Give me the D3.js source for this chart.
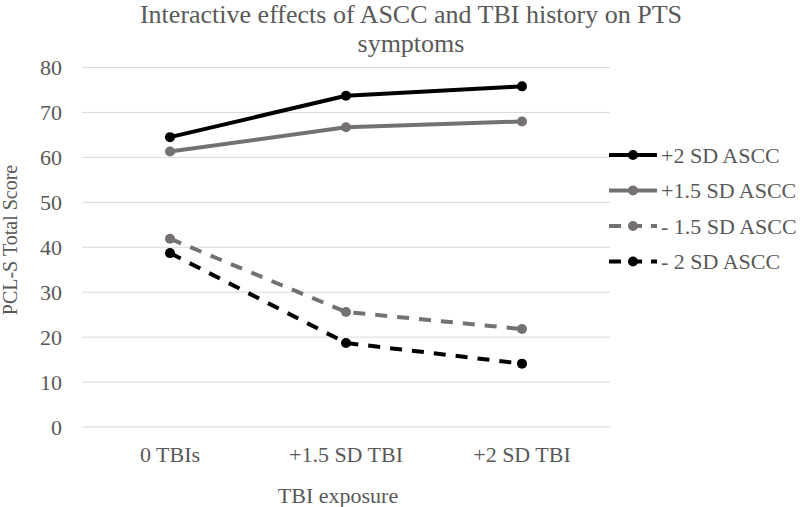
<!DOCTYPE html>
<html><head><meta charset="utf-8">
<script src="https://cdn.jsdelivr.net/npm/d3@7"></script>
<style>body{margin:0;background:#fff}svg{display:block}</style>
</head><body>
<svg id="c" width="800" height="507"></svg>
<script>
const categories = ["0 TBIs", "+1.5 SD TBI", "+2 SD TBI"];
const seriesNames = ["+2 SD ASCC", "+1.5 SD ASCC", "- 1.5 SD ASCC", "- 2 SD ASCC"];
const plus2 = [64.5, 73.7, 75.8];
const plus15 = [61.3, 66.7, 68.0];
const minus15 = [41.9, 25.6, 21.8];
const minus2 = [38.7, 18.7, 14.1];
const yTicks = [0, 10, 20, 30, 40, 50, 60, 70, 80];

const series = [
  {name: seriesNames[0], values: plus2, color: "#000000", dash: null},
  {name: seriesNames[1], values: plus15, color: "#767171", dash: null},
  {name: seriesNames[2], values: minus15, color: "#767171", dash: "12,10"},
  {name: seriesNames[3], values: minus2, color: "#000000", dash: "12,10"}
];

const svg = d3.select("#c");
const mLeft = 82, mRight = 610, mTop = 67.5, mBottom = 427;
const x = d3.scaleBand().domain(categories).range([mLeft, mRight]);
const y = d3.scaleLinear().domain([0, 80]).range([mBottom, mTop]);
const font = "'Liberation Serif','Times New Roman',serif";
const textColor = "#595959";

// gridlines
svg.append("g").selectAll("line").data(yTicks).join("line")
  .attr("x1", mLeft).attr("x2", mRight)
  .attr("y1", d => y(d)).attr("y2", d => y(d))
  .attr("stroke", "#d9d9d9").attr("stroke-width", 1);

// y axis labels
const yAxis = svg.append("g").attr("transform", `translate(${mLeft},0)`)
  .call(d3.axisLeft(y).tickValues(yTicks).tickSize(0).tickPadding(20));
yAxis.select(".domain").remove();
yAxis.selectAll("text").attr("font-family", font).attr("font-size", 22).attr("fill", textColor);

// x axis labels
const xAxis = svg.append("g").attr("transform", `translate(0,${mBottom})`)
  .call(d3.axisBottom(x).tickSize(0).tickPadding(19));
xAxis.select(".domain").remove();
xAxis.selectAll("text").attr("font-family", font).attr("font-size", 22).attr("fill", textColor);

// lines
const line = d3.line().x((d, i) => x(categories[i]) + x.bandwidth() / 2).y(d => y(d));
series.forEach(s => {
  svg.append("path").datum(s.values)
    .attr("d", line).attr("fill", "none")
    .attr("stroke", s.color).attr("stroke-width", 4)
    .attr("stroke-dasharray", s.dash).attr("stroke-linecap", s.dash ? "butt" : "round")
    .attr("stroke-linejoin", "round");
  svg.append("g").selectAll("circle").data(s.values).join("circle")
    .attr("cx", (d, i) => x(categories[i]) + x.bandwidth() / 2)
    .attr("cy", d => y(d)).attr("r", 5).attr("fill", s.color);
});

// title
const title = svg.append("text").attr("text-anchor", "middle")
  .attr("font-family", font).attr("font-size", 26).attr("fill", textColor);
title.append("tspan").attr("x", 411).attr("y", 23).text("Interactive effects of ASCC and TBI history on PTS");
title.append("tspan").attr("x", 411).attr("y", 52).text("symptoms");

// axis titles
svg.append("text").attr("transform", "translate(10,240) rotate(-90)")
  .attr("text-anchor", "middle").attr("dy", "0.35em").attr("font-family", font).attr("font-size", 20)
  .attr("fill", textColor).text("PCL-S Total Score");
svg.append("text").attr("x", 338).attr("y", 503)
  .attr("text-anchor", "middle").attr("font-family", font).attr("font-size", 22)
  .attr("fill", textColor).text("TBI exposure");

// legend
const lg = svg.append("g");
series.forEach((s, i) => {
  const ly = 155 + i * 35.5;
  const g = lg.append("g");
  g.append("line").attr("x1", 609).attr("x2", 657).attr("y1", ly).attr("y2", ly)
    .attr("stroke", s.color).attr("stroke-width", 4)
    .attr("stroke-dasharray", s.dash ? "12,9" : null);
  g.append("circle").attr("cx", 633).attr("cy", ly).attr("r", 5).attr("fill", s.color);
  g.append("text").attr("x", 661).attr("y", ly).attr("dy", "0.35em")
    .attr("font-family", font).attr("font-size", 22).attr("fill", textColor).text(s.name);
});
</script>
</body></html>
